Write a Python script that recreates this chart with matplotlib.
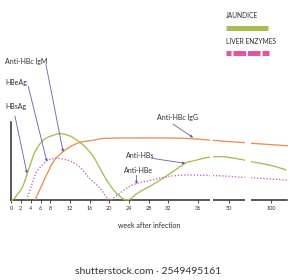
import matplotlib
matplotlib.use("Agg")
import matplotlib.pyplot as plt
import numpy as np
from matplotlib.path import Path
from matplotlib.patches import PathPatch
from matplotlib.lines import Line2D

plt.rcParams['font.family'] = ['Lato', 'DejaVu Sans']

# x in weeks after infection (axis position), y in relative level (0-100)
hbsag_wk = [0, 0.5, 2.2, 3.2, 3.9, 4.9, 6.6, 8.6, 10.3, 12.3, 14.4, 16.1, 17.1, 19.1, 21.1, 22.8, 23.6]
hbsag_lvl = [0, 1, 15, 32, 45, 62, 77, 83, 85, 81, 72, 61, 52, 29, 11, 1.5, 0]

anti_hbs_wk = [23.6, 24.3, 25.8, 28.6, 31.9, 35.4, 37.0, 40.0, 43.1, 47.2, 48.9, 52.4, 56.0]
anti_hbs_lvl = [0, 1.5, 9, 19, 32, 47, 50, 54.5, 55.5, 51.5, 49, 45, 38.5]

anti_hbc_wk = [4.9, 6.6, 8.6, 10.6, 12.7, 14.4, 16.1, 19.1, 25.2, 29.9, 35.4, 40.0, 44.0, 47.6, 48.9, 56.3]
anti_hbc_lvl = [0, 23.5, 49, 62, 70.5, 74.5, 76, 79, 79.5, 79.5, 79, 77, 75, 73.5, 72.7, 69.5]

hbeag_wk = [3.2, 3.5, 4.2, 5.2, 7.3, 9.3, 12.0, 14.0, 16.1, 18.1, 19.5, 20.3]
hbeag_lvl = [0, 6, 19, 36, 50, 53.5, 50, 42, 27, 15, 3, 0]

anti_hbe_wk = [20.3, 21.7, 24.6, 28.6, 31.9, 35.4, 39.8, 44.0, 47.2, 48.9, 56.0]
anti_hbe_lvl = [0, 6.5, 19, 25.5, 30, 32, 31.5, 30.5, 29, 28.5, 25.5]

tick_pos = [0, 2, 4, 6, 8, 12, 16, 20, 24, 28, 32, 38, 44.3, 52.8]
tick_lab = ['0', '2', '4', '6', '8', '12', '16', '20', '24', '28', '32', '36', '50', '100']
gaps = [(40.35, 41.06), (47.56, 48.78)]

GREEN = '#a7be4c'
ORANGE = '#ea8f4f'
PINK_DOT = '#c45fb5'
PINK = '#e4559c'
ARROW = '#6a5ca8'
INK = '#2b2b2b'


def smooth_path(xs, ys):
    """catmull-rom -> bezier, drawn by matplotlib as a curve path"""
    p = np.column_stack([xs, ys]).astype(float)
    p = np.vstack([p[0], p, p[-1]])
    verts = [p[1]]
    codes = [Path.MOVETO]
    for i in range(1, len(p) - 2):
        c1 = p[i] + (p[i + 1] - p[i - 1]) / 6
        c2 = p[i + 1] - (p[i + 2] - p[i]) / 6
        verts += [c1, c2, p[i + 1]]
        codes += [Path.CURVE4] * 3
    return Path(verts, codes)


def curve(ax, xs, ys, color, ls='-'):
    ax.add_patch(PathPatch(smooth_path(xs, ys), fill=False, edgecolor=color,
                           lw=0.95, linestyle=ls, capstyle='butt', zorder=3))


fig = plt.figure(figsize=(2.95, 2.80), dpi=100)
ax = fig.add_axes([11 / 295, 1 - 203.1 / 280, 277 / 295, 81.1 / 280])
ax.set_xlim(0, 56.3)
ax.set_ylim(-4, 100)

curve(ax, hbsag_wk, hbsag_lvl, GREEN)
curve(ax, anti_hbs_wk, anti_hbs_lvl, GREEN)
curve(ax, anti_hbc_wk, anti_hbc_lvl, ORANGE)
curve(ax, hbeag_wk, hbeag_lvl, PINK_DOT, (0, (1, 1.4)))
curve(ax, anti_hbe_wk, anti_hbe_lvl, PINK_DOT, (0, (1, 1.4)))

for g0, g1 in gaps:
    ax.axvspan(g0, g1, color='white', lw=0, zorder=6)

for s in ['top', 'right']:
    ax.spines[s].set_visible(False)
ax.spines['bottom'].set_position(('data', 0))
ax.spines['bottom'].set_bounds(0, 56.0)
ax.spines['left'].set_bounds(0, 100)
for s in ['bottom', 'left']:
    ax.spines[s].set_linewidth(1.1)
    ax.spines[s].set_color(INK)
ax.set_yticks([])
ax.set_xticks(tick_pos)
ax.set_xticklabels(tick_lab)
ax.tick_params(axis='x', length=1.8, width=0.6, pad=2.2, labelsize=4, colors=INK)
ax.set_facecolor('none')

# labels with arrows: (text, text pos, arrow start, arrow tip)
labels = [
    ('Anti-HBc IgM', (-1.2, 177), (7.1, 174), (10.6, 61.5)),
    ('HBeAg', (-1.2, 151), (3.5, 146), (7.3, 49)),
    ('HBsAg', (-1.2, 120.5), (0.8, 107.7), (3.25, 34)),
    ('Anti-HBc IgG', (29.7, 106.4), (32.9, 97.4), (37.0, 80)),
    ('Anti-HBs', (23.4, 57), (28.6, 53.5), (35.4, 47)),
    ('Anti-HBe', (23.0, 37.6), (25.5, 31.5), (25.5, 20.5)),
]
for txt, tp, a0, a1 in labels:
    ax.text(tp[0], tp[1], txt, fontsize=5, color=INK, ha='left', va='center', clip_on=False)
    ax.annotate('', xy=a1, xytext=a0, annotation_clip=False,
                arrowprops=dict(arrowstyle='-|>', color=ARROW, lw=0.6,
                                mutation_scale=3.5, shrinkA=0, shrinkB=0))

fig.text(149 / 295, 1 - 225 / 280, 'week after infection', fontsize=5, color=INK,
         ha='center', va='center')

# legend (dash lengths are scaled by linewidth 3.6)
fig.text(226 / 295, 1 - 16 / 280, 'JAUNDICE', fontsize=4.8, color=INK, ha='left', va='center')
fig.add_artist(Line2D([226 / 295, 268 / 295], [1 - 27.5 / 280] * 2, color=GREEN,
                      lw=3.6, solid_capstyle='butt'))
fig.text(226 / 295, 1 - 42 / 280, 'LIVER ENZYMES', fontsize=4.8, color=INK, ha='left', va='center')
fig.add_artist(Line2D([226 / 295, 269 / 295], [1 - 52.5 / 280] * 2, color=PINK,
                      lw=3.6, dash_capstyle='butt', linestyle=(1.5, (2.5, 0.4))))

fig.text(148 / 295, 1 - 271 / 280, 'shutterstock.com \u00b7 2549495161', fontsize=7.5,
         color='#333333', ha='center', va='center')

fig.savefig('out.png', dpi=100, facecolor='white')
